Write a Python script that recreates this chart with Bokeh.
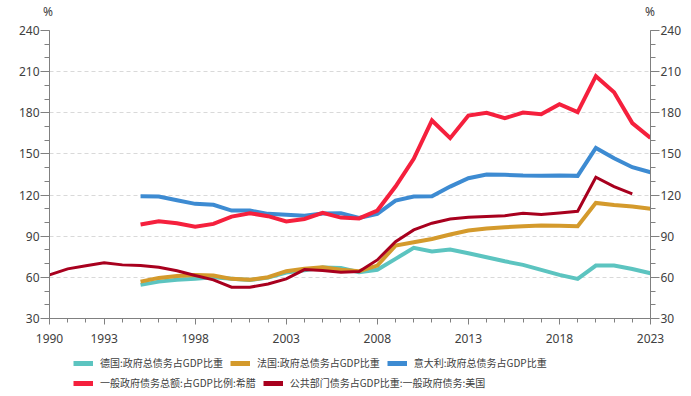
from bokeh.plotting import figure
from bokeh.layouts import column
from bokeh.models import (ColumnDataSource, Range1d, LinearAxis, FixedTicker,
                          Legend, LegendItem, Div)
from bokeh.embed import file_html
from bokeh.resources import INLINE

# ---------------- data ----------------
years_eu = list(range(1995, 2024))
years_us = list(range(1990, 2023))

germany = [54.5, 56.9, 58.2, 58.9, 60.1, 59.0, 58.0, 59.8, 63.5, 65.2,
           67.2, 66.9, 63.8, 65.5, 73.5, 81.5, 78.8, 80.3, 77.6, 74.7,
           71.7, 69.1, 65.5, 61.8, 58.9, 68.6, 68.6, 66.1, 63.0]
france = [56.9, 59.6, 61.0, 61.8, 61.3, 58.9, 58.2, 60.1, 64.5, 66.2,
          67.4, 65.6, 64.5, 68.6, 83.2, 85.6, 88.0, 91.2, 94.1, 95.6,
          96.5, 97.3, 97.8, 97.6, 97.3, 114.3, 112.8, 111.6, 110.0]
italy = [119.1, 118.9, 116.2, 113.6, 112.9, 108.7, 108.7, 106.3, 105.6, 105.0,
         106.5, 106.8, 103.4, 106.3, 116.0, 118.9, 119.1, 126.2, 132.3, 135.0,
         134.8, 134.2, 134.0, 134.2, 134.0, 154.4, 146.9, 140.3, 136.6]
greece = [98.5, 100.9, 99.5, 97.0, 99.0, 104.3, 106.8, 104.6, 100.7, 102.6,
          107.0, 103.6, 103.0, 108.7, 126.2, 146.4, 174.4, 161.5, 178.0, 180.0,
          176.0, 180.2, 179.0, 186.3, 180.5, 206.7, 195.0, 172.5, 161.7]
usa = [61.8, 66.2, 68.4, 70.6, 69.1, 68.6, 67.3, 64.8, 61.3, 58.2,
       52.8, 52.8, 55.2, 58.9, 65.7, 65.0, 63.8, 64.2, 72.7, 86.0,
       94.6, 99.5, 102.6, 103.8, 104.3, 105.0, 106.7, 105.8, 107.0, 108.2,
       133.0, 126.2, 120.9]

names = ["德国:政府总债务占GDP比重", "法国:政府总债务占GDP比重",
         "意大利:政府总债务占GDP比重", "一般政府债务总额:占GDP比例:希腊",
         "公共部门债务占GDP比重:一般政府债务:美国"]
colors = ["#5cc4c0", "#d49a2c", "#3d8bd2", "#f5203d", "#a8001e"]

x_ticks = [1990, 1993, 1998, 2003, 2008, 2013, 2018, 2023]
x_minor = list(range(1990, 2024))
y_ticks = [30, 60, 90, 120, 150, 180, 210, 240]
y_minor = list(range(30, 241, 10))
unit = "%"

# ---------------- layout constants ----------------
TICK_FONT = "Noto Sans"
CJK_FONT = "Noto Sans CJK SC"
W = 691
TOP_H = 20
MAIN_H = 332
LEG_H = 396 - TOP_H - MAIN_H

# ---------------- unit labels (top strip) ----------------
top = Div(text=(
    f'<div style="position:relative;width:{W}px;height:{TOP_H}px;'
    f'font-family:\'{TICK_FONT}\';font-size:12px;line-height:16px;color:#404040">'
    f'<span style="position:absolute;left:43px;top:4px">{unit}</span>'
    f'<span style="position:absolute;left:645px;top:4px">{unit}</span></div>'),
    width=W, height=TOP_H, margin=(0, 0, 0, 0))

# ---------------- main figure ----------------
p = figure(width=W, height=MAIN_H, output_backend="svg", toolbar_location=None,
           x_range=Range1d(x_ticks[0], x_ticks[-1]),
           y_range=Range1d(y_ticks[0], y_ticks[-1]),
           min_border_left=49, min_border_right=41,
           min_border_top=10, min_border_bottom=34)
p.outline_line_color = None
p.background_fill_color = "white"
p.border_fill_color = "white"

p.xgrid.visible = False
p.ygrid.ticker = FixedTicker(ticks=y_ticks)
p.ygrid.grid_line_color = "#d9d9d9"
p.ygrid.grid_line_dash = "4 3"
p.ygrid.grid_line_width = 1

def style_axis(ax):
    ax.axis_line_color = "#808080"
    ax.major_tick_line_color = "#808080"
    ax.minor_tick_line_color = "#808080"
    ax.major_label_text_color = "#404040"
    ax.major_label_text_font = TICK_FONT
    ax.major_label_text_font_size = "12px"
    ax.major_tick_in = 0
    ax.minor_tick_in = 0

xa = p.xaxis[0]
xa.ticker = FixedTicker(ticks=x_ticks, minor_ticks=x_minor)
style_axis(xa)
xa.major_tick_out = 6
xa.minor_tick_out = 4
xa.major_label_standoff = 9

ya = p.yaxis[0]
ya.ticker = FixedTicker(ticks=y_ticks, minor_ticks=y_minor)
style_axis(ya)
ya.major_tick_out = 9
ya.minor_tick_out = 5
ya.major_label_standoff = 1

ra = LinearAxis(ticker=FixedTicker(ticks=y_ticks, minor_ticks=y_minor))
style_axis(ra)
ra.major_tick_out = 9
ra.minor_tick_out = 5
ra.major_label_standoff = 1
p.add_layout(ra, "right")

series = [(years_eu, germany), (years_eu, france), (years_eu, italy),
          (years_eu, greece), (years_us, usa)]
widths = [4, 4, 4, 4, 3]
for (xs, ys), c, w in zip(series, colors, widths):
    src = ColumnDataSource(dict(x=xs, y=ys))
    p.line("x", "y", source=src, line_color=c, line_width=w, line_join="miter")

# ---------------- legend strip ----------------
lp = figure(width=W, height=LEG_H, output_backend="svg", toolbar_location=None,
            x_range=Range1d(0, 1), y_range=Range1d(0, 1),
            x_axis_type=None, y_axis_type=None,
            min_border_left=49, min_border_right=41,
            min_border_top=0, min_border_bottom=0)
lp.outline_line_color = None
lp.xgrid.visible = False
lp.ygrid.visible = False

# same series drawn out of view in the legend strip, only to supply the key swatches
proxies = []
for (xs, ys), c in zip(series, colors):
    src = ColumnDataSource(dict(x=xs, y=ys))
    proxies.append(lp.line("x", "y", source=src, line_color=c, line_width=5))

def make_legend(idx, loc):
    lg = Legend(items=[LegendItem(label=names[i], renderers=[proxies[i]]) for i in idx],
                location=loc, orientation="horizontal",
                label_text_font=CJK_FONT, label_text_font_size="10px",
                label_text_color="#404040",
                glyph_width=20, glyph_height=14, label_height=14,
                label_standoff=7, spacing=7, padding=0, margin=0,
                border_line_color=None, background_fill_alpha=0)
    lp.add_layout(lg, "center")

make_legend([0, 1, 2], (24, LEG_H - 11 - 7))
make_legend([3, 4], (24, LEG_H - 31 - 7))

layout = column(top, p, lp, spacing=0)
open("out.html", "w").write(file_html(layout, INLINE))
